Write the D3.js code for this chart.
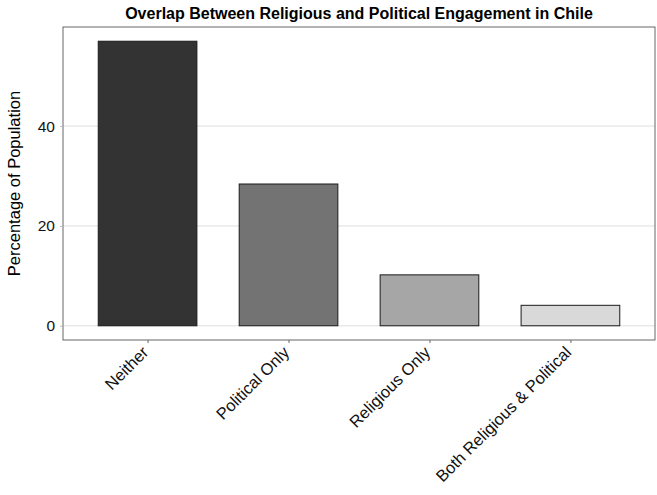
<!DOCTYPE html>
<html>
<head>
<meta charset="utf-8">
<script src="https://cdn.jsdelivr.net/npm/d3@7"></script>
<style>
  body { margin: 0; background: #fff; }
  svg { font-family: "Liberation Sans", Arial, Helvetica, sans-serif; }
</style>
</head>
<body>
<div id="chart"></div>
<script>
// chart values
var categories = ["Neither", "Political Only", "Religious Only", "Both Religious & Political"];
var percentages = [57, 28.4, 10.2, 4.1];
var fills = ["#333333", "#737373", "#a6a6a6", "#d9d9d9"];
var yTicks = [0, 20, 40];

var width = 657, height = 495;
var margin = {top: 27, right: 2, bottom: 155, left: 63};
var w = width - margin.left - margin.right,
    h = height - margin.top - margin.bottom;

var svg = d3.select("#chart").append("svg")
    .attr("width", width)
    .attr("height", height);

var g = svg.append("g")
    .attr("transform", "translate(" + margin.left + "," + margin.top + ")");

// ggplot-like expansion: discrete 0.6 units, continuous 5%
var x = d3.scaleLinear().domain([0.4, categories.length + 0.6]).range([0, w]);
var ymax = d3.max(percentages);
var y = d3.scaleLinear().domain([-0.05 * ymax, ymax * 1.05]).range([h, 0]);
var barW = x(1.7) - x(1);

// grid lines
g.selectAll(".grid")
    .data(yTicks)
    .enter().append("line")
    .attr("class", "grid")
    .attr("x1", 0).attr("x2", w)
    .attr("y1", function (d) { return y(d); })
    .attr("y2", function (d) { return y(d); })
    .attr("stroke", "#dedede")
    .attr("stroke-width", 1);

// bars
g.selectAll(".bar")
    .data(percentages)
    .enter().append("rect")
    .attr("class", "bar")
    .attr("x", function (d, i) { return x(i + 1) - barW / 2; })
    .attr("width", barW)
    .attr("y", function (d) { return y(d); })
    .attr("height", function (d) { return y(0) - y(d); })
    .attr("fill", function (d, i) { return fills[i]; })
    .attr("stroke", "#1a1a1a")
    .attr("stroke-width", 1);

// panel border
g.append("rect")
    .attr("x", 0).attr("y", 0)
    .attr("width", w).attr("height", h)
    .attr("fill", "none")
    .attr("stroke", "#666")
    .attr("stroke-width", 1);

// y axis
var yAxis = g.append("g")
    .call(d3.axisLeft(y).tickValues(yTicks).tickSize(3).tickPadding(5));
yAxis.select(".domain").remove();
yAxis.selectAll(".tick line").attr("stroke", "#bbb");
yAxis.selectAll("text")
    .attr("font-size", 15.5)
    .attr("fill", "#111");

// x axis
var xAxis = g.append("g")
    .attr("transform", "translate(0," + h + ")")
    .call(d3.axisBottom(x)
        .tickValues(d3.range(1, categories.length + 1))
        .tickFormat(function (d) { return categories[d - 1]; })
        .tickSize(3));
xAxis.select(".domain").remove();
xAxis.selectAll(".tick line").attr("stroke", "#666");
xAxis.selectAll("text")
    .attr("font-size", 16.5)
    .attr("fill", "#111")
    .attr("text-anchor", "end")
    .attr("dy", "0.7em")
    .attr("transform", "translate(-11,1) rotate(-45)");

// title
svg.append("text")
    .attr("x", margin.left + w / 2)
    .attr("y", 19)
    .attr("text-anchor", "middle")
    .attr("font-size", 16)
    .attr("font-weight", "bold")
    .text("Overlap Between Religious and Political Engagement in Chile");

// y label
svg.append("text")
    .attr("transform", "translate(20," + (margin.top + h / 2) + ") rotate(-90)")
    .attr("text-anchor", "middle")
    .attr("font-size", 16.5)
    .text("Percentage of Population");
</script>
</body>
</html>
